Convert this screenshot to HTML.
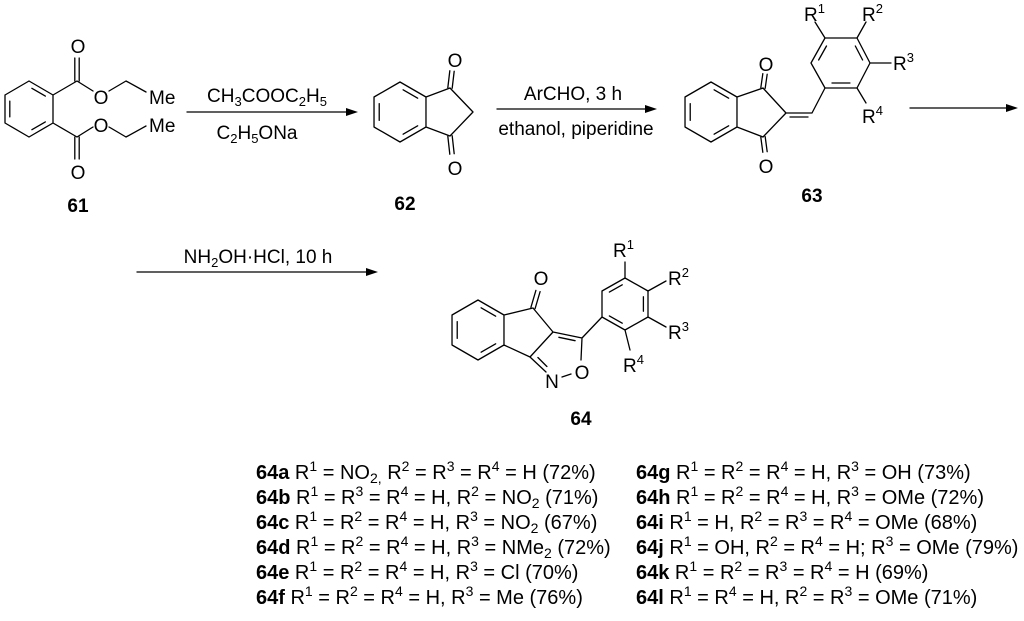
<!DOCTYPE html>
<html><head><meta charset="utf-8"><style>
html,body{margin:0;padding:0;background:#fff;}
svg{display:block;font-family:"Liberation Sans",Arial,sans-serif;}
text{fill:#000;}
.b{font-weight:bold;}
</style></head><body>
<svg id="s" width="1024" height="621" viewBox="0 0 1024 621" xmlns="http://www.w3.org/2000/svg">
<g id="bonds" stroke="#000" stroke-width="1.3" fill="none" stroke-linecap="round"></g>
<g font-size="19">
<text x="78" y="53" text-anchor="middle">O</text>
<text x="101" y="104" text-anchor="middle">O</text>
<text x="149" y="104">Me</text>
<text x="101" y="132" text-anchor="middle">O</text>
<text x="149" y="132">Me</text>
<text x="78" y="179" text-anchor="middle">O</text>
<text x="78" y="212" text-anchor="middle" class="b">61</text>
<text x="267" y="102" text-anchor="middle">CH<tspan font-size="13" dy="4">3</tspan><tspan dy="-4">COOC</tspan><tspan font-size="13" dy="4">2</tspan><tspan dy="-4">H</tspan><tspan font-size="13" dy="4">5</tspan></text>
<text x="257" y="139" text-anchor="middle">C<tspan font-size="13" dy="4">2</tspan><tspan dy="-4">H</tspan><tspan font-size="13" dy="4">5</tspan><tspan dy="-4">ONa</tspan></text>
<text x="455" y="67" text-anchor="middle">O</text>
<text x="455" y="175" text-anchor="middle">O</text>
<text x="405" y="210" text-anchor="middle" class="b">62</text>
<text x="573" y="100" text-anchor="middle">ArCHO, 3 h</text>
<text x="576" y="135" text-anchor="middle">ethanol, piperidine</text>
<text x="766" y="71" text-anchor="middle">O</text>
<text x="766" y="173" text-anchor="middle">O</text>
<text x="804" y="21">R<tspan font-size="13" dy="-8">1</tspan></text>
<text x="862" y="21">R<tspan font-size="13" dy="-8">2</tspan></text>
<text x="893" y="70">R<tspan font-size="13" dy="-8">3</tspan></text>
<text x="862" y="123">R<tspan font-size="13" dy="-8">4</tspan></text>
<text x="812" y="202" text-anchor="middle" class="b">63</text>
<text x="258" y="263" text-anchor="middle">NH<tspan font-size="13" dy="4">2</tspan><tspan dy="-4">OH·HCl, 10 h</tspan></text>
<text x="541" y="285" text-anchor="middle">O</text>
<text x="552" y="388" text-anchor="middle">N</text>
<text x="582" y="379" text-anchor="middle">O</text>
<text x="613" y="257">R<tspan font-size="13" dy="-8">1</tspan></text>
<text x="668" y="285">R<tspan font-size="13" dy="-8">2</tspan></text>
<text x="668" y="339">R<tspan font-size="13" dy="-8">3</tspan></text>
<text x="623" y="372">R<tspan font-size="13" dy="-8">4</tspan></text>
<text x="581" y="425" text-anchor="middle" class="b">64</text>
</g>
<g font-size="20">
<text x="256" y="479"><tspan class="b">64a</tspan> R<tspan font-size="14" dy="-8">1</tspan><tspan dy="8"> = NO</tspan><tspan font-size="14" dy="4">2,</tspan><tspan dy="-4"> R</tspan><tspan font-size="14" dy="-8">2</tspan><tspan dy="8"> = R</tspan><tspan font-size="14" dy="-8">3</tspan><tspan dy="8"> = R</tspan><tspan font-size="14" dy="-8">4</tspan><tspan dy="8"> = H (72%)</tspan></text>
<text x="256" y="504"><tspan class="b">64b</tspan> R<tspan font-size="14" dy="-8">1</tspan><tspan dy="8"> = R</tspan><tspan font-size="14" dy="-8">3</tspan><tspan dy="8"> = R</tspan><tspan font-size="14" dy="-8">4</tspan><tspan dy="8"> = H, R</tspan><tspan font-size="14" dy="-8">2</tspan><tspan dy="8"> = NO</tspan><tspan font-size="14" dy="4">2</tspan><tspan dy="-4"> (71%)</tspan></text>
<text x="256" y="529"><tspan class="b">64c</tspan> R<tspan font-size="14" dy="-8">1</tspan><tspan dy="8"> = R</tspan><tspan font-size="14" dy="-8">2</tspan><tspan dy="8"> = R</tspan><tspan font-size="14" dy="-8">4</tspan><tspan dy="8"> = H, R</tspan><tspan font-size="14" dy="-8">3</tspan><tspan dy="8"> = NO</tspan><tspan font-size="14" dy="4">2</tspan><tspan dy="-4"> (67%)</tspan></text>
<text x="256" y="554"><tspan class="b">64d</tspan> R<tspan font-size="14" dy="-8">1</tspan><tspan dy="8"> = R</tspan><tspan font-size="14" dy="-8">2</tspan><tspan dy="8"> = R</tspan><tspan font-size="14" dy="-8">4</tspan><tspan dy="8"> = H, R</tspan><tspan font-size="14" dy="-8">3</tspan><tspan dy="8"> = NMe</tspan><tspan font-size="14" dy="4">2</tspan><tspan dy="-4"> (72%)</tspan></text>
<text x="256" y="579"><tspan class="b">64e</tspan> R<tspan font-size="14" dy="-8">1</tspan><tspan dy="8"> = R</tspan><tspan font-size="14" dy="-8">2</tspan><tspan dy="8"> = R</tspan><tspan font-size="14" dy="-8">4</tspan><tspan dy="8"> = H, R</tspan><tspan font-size="14" dy="-8">3</tspan><tspan dy="8"> = Cl (70%)</tspan></text>
<text x="256" y="604"><tspan class="b">64f</tspan> R<tspan font-size="14" dy="-8">1</tspan><tspan dy="8"> = R</tspan><tspan font-size="14" dy="-8">2</tspan><tspan dy="8"> = R</tspan><tspan font-size="14" dy="-8">4</tspan><tspan dy="8"> = H, R</tspan><tspan font-size="14" dy="-8">3</tspan><tspan dy="8"> = Me (76%)</tspan></text>
<text x="636" y="479"><tspan class="b">64g</tspan> R<tspan font-size="14" dy="-8">1</tspan><tspan dy="8"> = R</tspan><tspan font-size="14" dy="-8">2</tspan><tspan dy="8"> = R</tspan><tspan font-size="14" dy="-8">4</tspan><tspan dy="8"> = H, R</tspan><tspan font-size="14" dy="-8">3</tspan><tspan dy="8"> = OH (73%)</tspan></text>
<text x="636" y="504"><tspan class="b">64h</tspan> R<tspan font-size="14" dy="-8">1</tspan><tspan dy="8"> = R</tspan><tspan font-size="14" dy="-8">2</tspan><tspan dy="8"> = R</tspan><tspan font-size="14" dy="-8">4</tspan><tspan dy="8"> = H, R</tspan><tspan font-size="14" dy="-8">3</tspan><tspan dy="8"> = OMe (72%)</tspan></text>
<text x="636" y="529"><tspan class="b">64i</tspan> R<tspan font-size="14" dy="-8">1</tspan><tspan dy="8"> = H, R</tspan><tspan font-size="14" dy="-8">2</tspan><tspan dy="8"> = R</tspan><tspan font-size="14" dy="-8">3</tspan><tspan dy="8"> = R</tspan><tspan font-size="14" dy="-8">4</tspan><tspan dy="8"> = OMe (68%)</tspan></text>
<text x="636" y="554"><tspan class="b">64j</tspan> R<tspan font-size="14" dy="-8">1</tspan><tspan dy="8"> = OH, R</tspan><tspan font-size="14" dy="-8">2</tspan><tspan dy="8"> = R</tspan><tspan font-size="14" dy="-8">4</tspan><tspan dy="8"> = H; R</tspan><tspan font-size="14" dy="-8">3</tspan><tspan dy="8"> = OMe (79%)</tspan></text>
<text x="636" y="579"><tspan class="b">64k</tspan> R<tspan font-size="14" dy="-8">1</tspan><tspan dy="8"> = R</tspan><tspan font-size="14" dy="-8">2</tspan><tspan dy="8"> = R</tspan><tspan font-size="14" dy="-8">3</tspan><tspan dy="8"> = R</tspan><tspan font-size="14" dy="-8">4</tspan><tspan dy="8"> = H (69%)</tspan></text>
<text x="636" y="604"><tspan class="b">64l</tspan> R<tspan font-size="14" dy="-8">1</tspan><tspan dy="8"> = R</tspan><tspan font-size="14" dy="-8">4</tspan><tspan dy="8"> = H, R</tspan><tspan font-size="14" dy="-8">2</tspan><tspan dy="8"> = R</tspan><tspan font-size="14" dy="-8">3</tspan><tspan dy="8"> = OMe (71%)</tspan></text>
</g>
<g fill="#000">
<polygon points="358,112 346,108 346,116"/>
<polygon points="657,109 645,105 645,113"/>
<polygon points="1018,108 1006,104 1006,112"/>
<polygon points="378,272 366,268 366,276"/>
</g>
</svg>
<script>
(function(){
var g=document.getElementById('bonds'),d='';
function L(a,b,c,e){d+='M'+a+' '+b+'L'+c+' '+e;}
function inner(A,B,C){
  var f=0.2,t=0.15;
  var a=[A[0]+(C[0]-A[0])*f,A[1]+(C[1]-A[1])*f],b=[B[0]+(C[0]-B[0])*f,B[1]+(C[1]-B[1])*f];
  var dx=b[0]-a[0],dy=b[1]-a[1];
  L(a[0]+dx*t,a[1]+dy*t,b[0]-dx*t,b[1]-dy*t);}
function ring(v,dbl){var cx=0,cy=0;v.forEach(function(p){cx+=p[0];cy+=p[1];});cx/=v.length;cy/=v.length;
  for(var i=0;i<v.length;i++){var a=v[i],b=v[(i+1)%v.length];L(a[0],a[1],b[0],b[1]);}
  dbl.forEach(function(i){inner(v[i],v[(i+1)%v.length],[cx,cy]);});}
function hex(cx,cy,r){var v=[];for(var k=0;k<6;k++){var an=(-90+60*k)*Math.PI/180;v.push([cx+r*Math.cos(an),cy+r*Math.sin(an)]);}return v;}
function D(a,b,c,e,o){o=o||2.2;var dx=c-a,dy=e-b,l=Math.hypot(dx,dy),nx=-dy/l*o,ny=dx/l*o;L(a+nx,b+ny,c+nx,e+ny);L(a-nx,b-ny,c-nx,e-ny);}
var r61=[[29,81],[53,95],[53,123],[29,137],[5,123],[5,95]];ring(r61,[0,2,4]);
L(53,95,77,81);D(77,81,77,58);L(77,81,93,91);L(109,91,126,81);L(126,81,146,92);
L(53,123,77,137);D(77,137,77,159);L(77,137,93,127);L(109,127,126,137);L(126,137,146,126);
L(187,112,350,112);
var r62=hex(400,112,30);ring(r62,[0,2,4]);
L(426,97,450,88);L(450,88,473,112);L(473,112,450,136);L(450,136,426,127);
D(450,88,452,71);D(450,136,452,154);
L(497,109,650,109);
var r63=hex(711,112,30);ring(r63,[0,2,4]);
L(737,97,763,88);L(763,88,786,113);L(786,113,763,137);L(763,137,737,127);
D(763,88,765,74);D(763,137,765,152);
L(786,113,812,113);L(790,117,808,117);L(812,113,825,88);
var a63=[[825,38],[857,38],[870,63],[857,88],[825,88],[811,63]];ring(a63,[1,3,5]);
L(825,38,815,22);L(857,38,866,22);L(870,63,891,63);L(857,88,866,103);
L(910,108,1010,108);
L(137,272,370,272);
var r64=hex(478,330,30);ring(r64,[0,2,4]);
L(504,315,533,308);L(533,308,553,332);L(553,332,530,357);L(530,357,504,345);
D(533,308,538,291);
L(553,332,582,338);inner([553,332],[582,338],[565,355]);
L(582,338,581,360);L(571,374,562,377);
L(530,357,546,372);inner([530,357],[546,373],[560,350]);
L(582,338,602,317);
var a64=[[602,317],[602,291],[625,278],[648,291],[648,317],[625,330]];ring(a64,[1,3,5]);
L(625,278,625,262);L(648,291,666,281);L(648,317,666,327);L(625,330,630,350);
var p=document.createElementNS('http://www.w3.org/2000/svg','path');p.setAttribute('d',d);g.appendChild(p);
})();
</script>
</body></html>
